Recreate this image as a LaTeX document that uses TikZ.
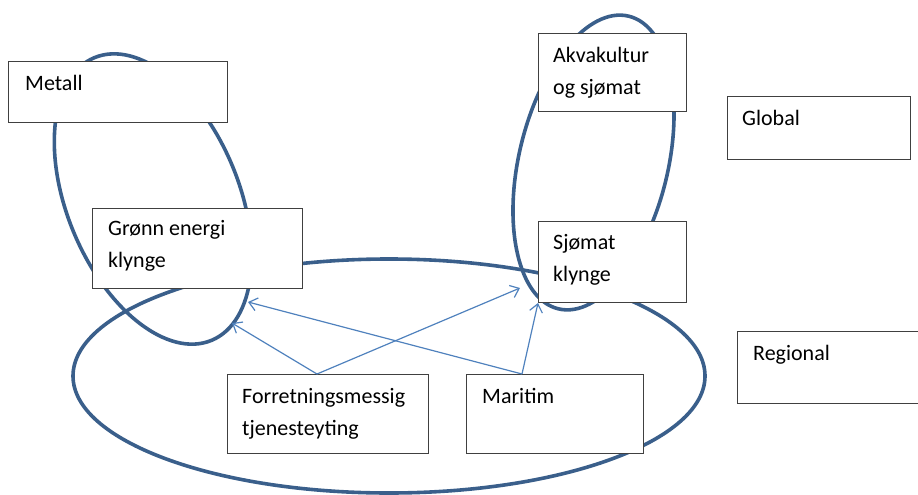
\documentclass[tikz,border=0pt]{standalone}
\usepackage{fontspec}
\setmainfont{Carlito}
\usetikzlibrary{arrows.meta}
\definecolor{ringblue}{RGB}{58,95,139}
\definecolor{linkblue}{RGB}{79,129,189}
\definecolor{boxgray}{RGB}{64,64,64}
\begin{document}
\begin{tikzpicture}[x=1pt,y=-1pt,
  box/.style={draw=boxgray,line width=0.9pt,fill=white,inner sep=0pt,outer sep=0pt,anchor=north west},
  txt/.style={anchor=base west,inner sep=0pt,align=left,font=\fontsize{22}{32}\selectfont},
  ring/.style={draw=ringblue,line width=3.6pt},
  link/.style={draw=linkblue,line width=1.2pt,-{Straight Barb[length=8pt,width=13pt,line width=1.2pt]}}]
\useasboundingbox (0,0) rectangle (918,495);

% cluster rings
\draw[ring] (389,376) ellipse [x radius=316, y radius=117];
\draw[ring,rotate around={22.5:(153,199)}] (153,199) ellipse [x radius=86, y radius=153];
\draw[ring,rotate around={-13.5:(593.5,162.5)}] (593.5,162.5) ellipse [x radius=74.5, y radius=150.5];

% ring contact points
\coordinate (gA) at (232,323);
\coordinate (gB) at (248,302);
\coordinate (sA) at (520,288);
\coordinate (sB) at (538,303);

% boxes
\node[box,minimum width=219,minimum height=61] (metall) at (8,61) {};
\node[box,minimum width=210,minimum height=80] (gronn) at (92,208) {};
\node[box,minimum width=148,minimum height=78] (akva) at (538,33) {};
\node[box,minimum width=148,minimum height=81] (sjo) at (538,221) {};
\node[box,minimum width=183,minimum height=63] (global) at (727,96) {};
\node[box,minimum width=200,minimum height=72] (regional) at (737,331) {};
\node[box,minimum width=201,minimum height=79] (forr) at (227,374) {};
\node[box,minimum width=177,minimum height=79] (mar) at (466,374) {};

% links
\coordinate (forr-out) at ([xshift=90pt]forr.north west);
\coordinate (mar-out) at ([xshift=56pt]mar.north west);
\draw[link] (forr-out) -- (gA);
\draw[link] (forr-out) -- (sA);
\draw[link] (mar-out) -- (gB);
\draw[link] (mar-out) -- (sB);

% labels (base west = baseline of the last line)
\node[txt] at ([shift={(17,29)}]metall.north west) {Metall};
\node[txt] at ([shift={(16,59)}]gronn.north west) {Grønn energi\\klynge};
\node[txt] at ([shift={(15,61)}]akva.north west) {Akvakultur\\og sjømat};
\node[txt] at ([shift={(15,60)}]sjo.north west) {Sjømat\\klynge};
\node[txt] at ([shift={(15,29)}]global.north west) {Global};
\node[txt] at ([shift={(16,29)}]regional.north west) {Regional};
\node[txt] at ([shift={(15,61)}]forr.north west) {Forretningsmessig\\tjenesteyting};
\node[txt] at ([shift={(16,29)}]mar.north west) {Maritim};
\end{tikzpicture}
\end{document}
